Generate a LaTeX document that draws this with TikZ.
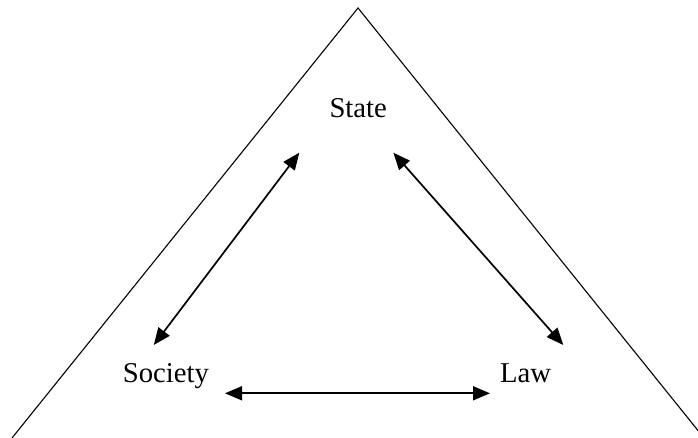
\documentclass[tikz,border=0pt]{standalone}
\usepackage{fontspec}
\setmainfont{Liberation Serif}
\usetikzlibrary{arrows.meta}
\tikzset{
  lbl/.style={inner sep=0pt, anchor=base west, font=\fontsize{28.7}{34}\selectfont},
  rel/.style={line width=1.7pt, {Triangle[length=17pt,width=14pt]}-{Triangle[length=17pt,width=14pt]}},
  frame/.style={line width=1.1pt, line join=miter}
}
\begin{document}
\begin{tikzpicture}[x=1pt,y=-1pt]
\clip (0,0) rectangle (698,438);
\fill[white] (0,0) rectangle (698,438);
\coordinate (apex) at (358,8);
\coordinate (bl) at (12,438);
\coordinate (br) at (704,438);
\draw[frame] (bl) -- (apex) -- (br);
\node[lbl] (state) at (329.3,117.7) {State};
\node[lbl] (society) at (122.7,382.7) {Society};
\node[lbl] (law) at (500,382.7) {Law};
\coordinate (sl) at (299.3,152.7);
\coordinate (sr) at (393.3,152.7);
\coordinate (so) at (153.8,345);
\coordinate (la) at (563.3,345);
\coordinate (sob) at (225,393.3);
\coordinate (lab) at (490,393.3);
\draw[rel] (sl) -- (so);
\draw[rel] (sr) -- (la);
\draw[rel] (sob) -- (lab);
\end{tikzpicture}
\end{document}
